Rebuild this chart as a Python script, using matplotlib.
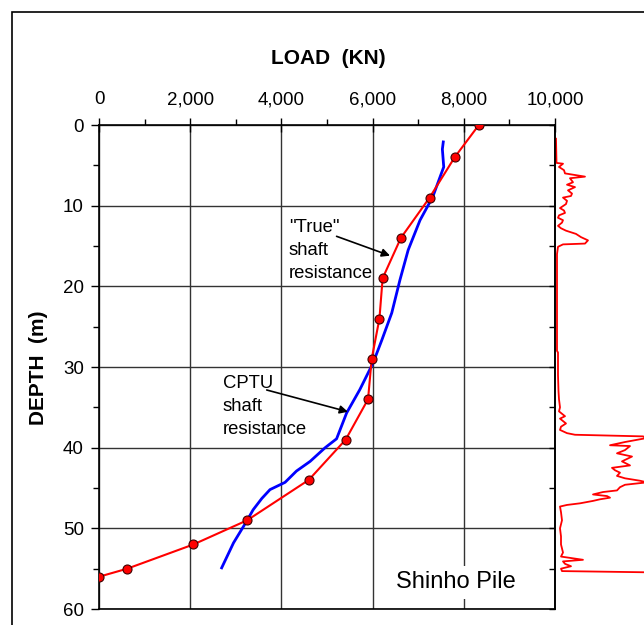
"""
plot.py
-------
Shinho pile: load-depth distribution ("True" vs CPTU shaft resistance)
with the CPT trace drawn alongside on the right.
"""

import matplotlib
matplotlib.use("Agg")
import matplotlib.pyplot as plt
from matplotlib.patches import Rectangle
from matplotlib.ticker import FuncFormatter, MultipleLocator

# ── Data ──────────────────────────────────────────────────────────────────────
# "True" shaft resistance (measured load distribution)
true_depth = [0, 4, 9, 14, 19, 24, 29, 34, 39, 44, 49, 52, 55, 56]
true_load = [8330, 7800, 7250, 6620, 6220, 6150, 5980, 5900, 5410, 4600, 3250, 2070, 620, 0]

# CPTU shaft resistance
cptu_depth = [2.1, 3.0, 5.2, 8.9, 11.8, 15.5, 19.2, 23.3, 26.7, 29.5, 32.8,
              35.7, 38.9, 40.0, 41.7, 42.9, 44.3, 45.2, 46.3, 47.7, 49.1, 51.8, 54.9]
cptu_load = [7550, 7530, 7560, 7320, 7040, 6780, 6600, 6420, 6200, 6010, 5720,
             5430, 5210, 4960, 4630, 4330, 4080, 3750, 3570, 3380, 3240, 2950, 2690]

# CPT trace on the right (relative units, 0 at the axis line)
cpt_depth = [1.7, 4.7, 4.8, 5.2, 5.6, 6.0, 6.4, 6.6, 7.1, 7.4, 7.7, 8.1, 8.5, 8.8,
             9.0, 9.4, 9.8, 10.3, 10.6, 10.9, 11.2, 11.5, 11.8, 12.1, 12.5, 12.8,
             13.1, 13.5, 13.9, 14.3, 14.7, 14.8, 15.1, 16, 20, 25, 28, 28.2, 31,
             33, 34, 35, 35.5, 36.1, 36.4, 37.0, 37.4, 37.8, 38.2, 38.4, 38.6,
             38.8, 39.3, 39.7, 39.8, 40.3, 40.7, 41.1, 41.4, 41.7, 42.2, 42.5,
             42.8, 43.1, 43.5, 43.8, 44.1, 44.3, 44.6, 44.9, 45.3, 45.5, 45.8,
             46.0, 46.2, 46.4, 46.6, 46.9, 47.1, 47.3, 48, 49, 50, 51, 52, 53,
             53.5, 53.9, 54.1, 54.4, 54.7, 55.0, 55.3, 55.5]
cpt_value = [1, 1.5, 8, 4, 9, 10, 30, 15, 18, 12, 20, 13, 17, 16,
             8, 12, 11, 5, 9, 10, 4, 3, 8, 7, 3, 6,
             11, 21, 26, 33, 30, 8, 3, 2, 2, 2, 2, 3, 3,
             3.5, 4, 5, 4, 10, 5, 11, 6, 5, 12, 20, 88,
             92, 70, 55, 75, 70, 62, 77, 72, 67, 75, 57,
             60, 65, 62, 70, 85, 92, 70, 65, 62, 48, 38,
             52, 55, 45, 38, 25, 12, 5, 6, 7, 5, 6, 6, 8,
             6, 28, 8, 10, 16, 6, 7, 120]

FONT = "Liberation Sans"
plt.rcParams.update({
    "font.family": FONT,
    "figure.dpi": 100,
})

ARROW = dict(arrowstyle="-|>", color="black", lw=1.2, mutation_scale=12,
             shrinkA=0, shrinkB=0)


def main() -> None:
    fig = plt.figure(figsize=(6.44, 6.25))

    # outer frame, cut by the right and bottom edges
    fig.patches.append(Rectangle((12 / 644, -0.1), 1.0, 1 - 12 / 625 + 0.1,
                                 transform=fig.transFigure, fill=False,
                                 edgecolor="black", lw=1.2))

    ax = fig.add_axes([99 / 644, 16 / 625, 456 / 644, 484 / 625])
    ax.set_xlim(0, 10000)
    ax.set_ylim(60, 0)

    ax.xaxis.tick_top()
    ax.xaxis.set_major_locator(MultipleLocator(2000))
    ax.xaxis.set_minor_locator(MultipleLocator(1000))
    ax.xaxis.set_major_formatter(FuncFormatter(lambda v, _: f"{v:,.0f}"))
    ax.yaxis.set_major_locator(MultipleLocator(10))
    ax.yaxis.set_minor_locator(MultipleLocator(5))

    ax.tick_params(axis="x", which="major", direction="inout", length=10,
                   width=1, labelsize=13.5, pad=7)
    ax.tick_params(axis="x", which="minor", direction="out", length=4, width=1)
    ax.tick_params(axis="y", which="major", direction="out", length=6,
                   width=1, labelsize=13.5, pad=5)
    ax.tick_params(axis="y", which="minor", direction="out", length=4, width=1)
    for side in ["top", "bottom", "left", "right"]:
        ax.spines[side].set_linewidth(1.2)

    ax.grid(True, which="major", color="0.2", lw=1)
    ax.set_axisbelow(True)

    ax.plot(cptu_load, cptu_depth, color="#0000FF", lw=2, zorder=3)
    ax.plot(true_load, true_depth, color="#FF0000", lw=1.5, marker="o",
            markersize=6.5, markerfacecolor="#FF0000", markeredgecolor="#400000",
            markeredgewidth=0.8, zorder=4)

    ax.text(4167, 11.6, '"True"\nshaft\nresistance', ha="left", va="top",
            fontsize=13.3, linespacing=1.47)
    ax.annotate("", xy=(6382, 16.2), xytext=(5210, 13.8), arrowprops=ARROW)
    ax.text(2719, 31.0, "CPTU\nshaft\nresistance", ha="left", va="top",
            fontsize=13.3, linespacing=1.47)
    ax.annotate("", xy=(5460, 35.55), xytext=(3678, 32.85), arrowprops=ARROW)

    ax.text(7829, 56.7, "Shinho Pile", ha="center", va="center", fontsize=17,
            bbox=dict(facecolor="white", edgecolor="none", pad=4), zorder=5)

    fig.text(328 / 644, 1 - 58 / 625, "LOAD  (KN)", ha="center", va="center",
             fontsize=15, fontweight="bold")
    fig.text(38 / 644, 1 - 368 / 625, "DEPTH  (m)", ha="center", va="center",
             rotation=90, fontsize=15, fontweight="bold")

    # CPT trace panel to the right of the load plot; its ticks point back
    # into the load plot
    cpt = fig.add_axes([555 / 644, 16 / 625, 100 / 644, 484 / 625])
    cpt.set_xlim(0, 100)
    cpt.set_ylim(60, 0)
    cpt.patch.set_visible(False)
    for side in ["top", "bottom", "right"]:
        cpt.spines[side].set_visible(False)
    cpt.spines["left"].set_linewidth(1.2)
    cpt.set_xticks([])
    cpt.yaxis.set_major_locator(MultipleLocator(5))
    cpt.tick_params(axis="y", direction="out", length=4, width=1,
                    labelleft=False)
    cpt.plot(cpt_value, cpt_depth, color="#FF0000", lw=1.3, clip_on=False)

    fig.savefig("out.png", dpi=100)
    plt.close(fig)


if __name__ == "__main__":
    main()
